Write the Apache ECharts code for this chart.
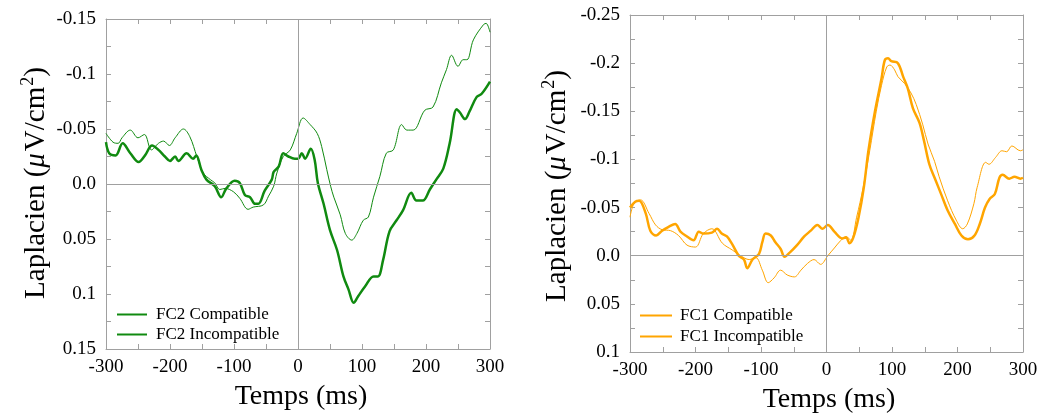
<!DOCTYPE html>
<html><head><meta charset="utf-8">
<script src="https://cdn.jsdelivr.net/npm/echarts@6/dist/echarts.min.js"></script>
<style>html,body{margin:0;padding:0;background:#fff}#c{width:1042px;height:416px}</style>
</head><body><div id="c"></div>
<script>
const xTicks = [-300,-200,-100,0,100,200,300];
const fc2CompT = [-300,-289,-281,-275,-262,-250,-240,-229,-218,-210,-201,-192,-179,-169,-158,-148,-137,-130,-122,-114,-101,-91,-78,-70,-54,-46,-38,-33,-23,-12,-2,8,19,30,37,45,51,56,66,74,84,92,102,110,118,128,138,149,162,170,180,198,211,224,232,240,250,258,264,274,290,294,300];
const fc2CompV = [-0.046,-0.038,-0.037,-0.042,-0.049,-0.042,-0.045,-0.031,-0.037,-0.039,-0.035,-0.042,-0.050,-0.043,-0.025,-0.010,-0.004,-0.001,0.005,0.004,0.007,0.013,0.023,0.021,0.019,0.011,0.002,-0.010,-0.025,-0.031,-0.046,-0.060,-0.054,-0.046,-0.034,-0.013,0.002,0.012,0.028,0.045,0.051,0.045,0.033,0.030,0.012,-0.007,-0.028,-0.031,-0.054,-0.049,-0.049,-0.067,-0.070,-0.092,-0.104,-0.117,-0.107,-0.113,-0.113,-0.131,-0.145,-0.146,-0.138];
const fc2IncT = [-300,-295,-285,-274,-262,-249,-239,-228,-218,-208,-200,-192,-187,-174,-164,-159,-151,-143,-130,-120,-112,-99,-91,-83,-75,-67,-62,-52,-41,-38,-30,-23,-15,-5,0,6,11,20,26,31,40,50,61,71,79,87,94,105,118,125,133,143,154,164,177,185,195,206,216,227,237,248,253,261,268,279,287,300];
const fc2IncV = [-0.038,-0.028,-0.026,-0.037,-0.028,-0.020,-0.026,-0.035,-0.031,-0.025,-0.021,-0.025,-0.021,-0.028,-0.023,-0.026,-0.013,-0.004,0.002,0.012,0.004,-0.003,-0.001,0.010,0.012,0.018,0.018,0.006,-0.004,-0.011,-0.016,-0.028,-0.025,-0.023,-0.023,-0.028,-0.023,-0.032,-0.022,-0.001,0.018,0.042,0.060,0.084,0.096,0.108,0.102,0.093,0.084,0.084,0.069,0.043,0.033,0.024,0.008,0.015,0.015,0.005,-0.004,-0.014,-0.037,-0.068,-0.065,-0.059,-0.066,-0.079,-0.082,-0.093];
const fc1CompT = [-300,-294,-284,-271,-261,-251,-238,-226,-213,-200,-188,-175,-159,-144,-131,-118,-108,-98,-89,-80,-70,-60,-49,-39,-29,-19,-9,2,12,22,30,37,46,56,66,76,84,92,97,104,109,119,129,137,147,155,165,172,185,198,208,215,225,230,243,248,258,268,275,283,296,300];
const fc1CompV = [-0.040,-0.054,-0.058,-0.044,-0.032,-0.027,-0.026,-0.021,-0.011,-0.009,-0.023,-0.028,-0.013,-0.006,0.000,0.004,0.002,0.015,0.028,0.023,0.015,0.020,0.022,0.015,0.008,0.004,0.009,0.000,-0.008,-0.016,-0.020,-0.016,-0.040,-0.071,-0.109,-0.150,-0.177,-0.196,-0.198,-0.193,-0.186,-0.179,-0.169,-0.157,-0.136,-0.116,-0.098,-0.082,-0.057,-0.037,-0.028,-0.033,-0.054,-0.071,-0.097,-0.095,-0.102,-0.109,-0.108,-0.114,-0.109,-0.110];
const fc1IncT = [-300,-292,-286,-276,-269,-260,-251,-241,-231,-223,-213,-203,-195,-188,-175,-167,-160,-152,-144,-134,-126,-121,-113,-103,-98,-93,-85,-78,-70,-64,-55,-45,-34,-24,-14,-6,2,12,24,30,35,41,49,57,64,74,84,89,94,99,109,117,124,132,142,149,157,165,175,185,196,206,216,226,234,242,249,257,264,269,279,287,296,300];
const fc1IncV = [-0.050,-0.056,-0.057,-0.044,-0.026,-0.021,-0.026,-0.030,-0.033,-0.025,-0.020,-0.016,-0.025,-0.023,-0.024,-0.028,-0.023,-0.020,-0.012,0.000,0.004,0.013,0.004,-0.002,-0.014,-0.023,-0.021,-0.014,-0.007,0.001,-0.004,-0.011,-0.020,-0.026,-0.032,-0.028,-0.032,-0.025,-0.018,-0.019,-0.013,-0.019,-0.040,-0.071,-0.109,-0.150,-0.184,-0.203,-0.205,-0.202,-0.200,-0.186,-0.174,-0.153,-0.138,-0.119,-0.095,-0.081,-0.064,-0.047,-0.033,-0.021,-0.017,-0.021,-0.033,-0.050,-0.059,-0.064,-0.081,-0.084,-0.080,-0.082,-0.080,-0.081];
const leftYTicks = ['-0.15','-0.1','-0.05','0.0','0.05','0.1','0.15'];
const rightYTicks = ['-0.25','-0.2','-0.15','-0.1','-0.05','0.0','0.05','0.1'];

const zip = (t, v) => t.map((x, i) => [x, v[i]]);
const FONT = 'Liberation Serif';
const AX = '#a0a0a0';
const GREEN = '#108a10';
const ORANGE = '#ffa500';

function yFmt(list) {
  return function (v) {
    const r = Math.round(v * 100) / 100;
    const s = r === 0 ? '0.0' : String(r);
    return list.indexOf(s) >= 0 ? s : '';
  };
}

const grids = [
  {left: 106, top: 19, width: 384, height: 330},
  {left: 630, top: 15, width: 393, height: 337}
];

function xAxes(gi) {
  const common = {type: 'value', gridIndex: gi, min: -300, max: 300, interval: 100,
    axisLine: {show: true, onZero: false, lineStyle: {color: AX, width: 1}},
    axisTick: {show: true, inside: true, length: 5, lineStyle: {color: AX}},
    minorTick: {show: true, splitNumber: 2, length: 5, lineStyle: {color: AX}},
    splitLine: {show: false}};
  return [
    Object.assign({}, common, {position: 'bottom',
      axisLabel: {show: true, color: '#000', fontFamily: FONT, fontSize: 19, margin: 9}}),
    Object.assign({}, common, {position: 'top', axisLabel: {show: false}})
  ];
}
function yAxes(gi, min, max, list) {
  const common = {type: 'value', gridIndex: gi, min: min, max: max, interval: 0.05, inverse: true,
    axisLine: {show: true, onZero: false, lineStyle: {color: AX, width: 1}},
    axisTick: {show: true, inside: true, length: 5, lineStyle: {color: AX}},
    minorTick: {show: true, splitNumber: 2, length: 5, lineStyle: {color: AX}},
    splitLine: {show: false}};
  return [
    Object.assign({}, common, {position: 'left',
      axisLabel: {show: true, color: '#000', fontFamily: FONT, fontSize: 19, margin: 10, formatter: yFmt(list)}}),
    Object.assign({}, common, {position: 'right', axisLabel: {show: false}})
  ];
}

const zeroLines = {
  silent: true, symbol: 'none', label: {show: false},
  lineStyle: {color: AX, type: 'solid', width: 1},
  emphasis: {disabled: true},
  data: [{xAxis: 0}, {yAxis: 0}],
  animation: false
};

function ser(name, data, xi, yi, color, width, ml) {
  const s = {name: name, type: 'line', data: data, xAxisIndex: xi, yAxisIndex: yi,
    showSymbol: false, symbol: 'none', smooth: 0.35,
    lineStyle: {color: color, width: width}, itemStyle: {color: color}, z: width > 1.5 ? 3 : 2};
  if (ml) s.markLine = zeroLines;
  return s;
}

const titleRich = {
  n: {fontFamily: FONT, fontSize: 29, color: '#000', lineHeight: 31, verticalAlign: 'bottom'},
  i: {fontFamily: FONT, fontSize: 29, fontStyle: 'italic', color: '#000', lineHeight: 31, verticalAlign: 'bottom', padding: [0, 2, 0, 0]},
  s: {fontFamily: FONT, fontSize: 18, color: '#000', lineHeight: 31, verticalAlign: 'top', padding: [0, 0, 0, 1]}
};
const yTitleText = '{n|Laplacien (}{i|\u03bc}{n|V/cm}{s|2}{n|)}';

const legendText = {fontFamily: FONT, fontSize: 17, color: '#000', padding: [0, 0, 0, 4]};

const option = {
  animation: false,
  backgroundColor: '#fff',
  grid: grids,
  xAxis: [...xAxes(0), ...xAxes(1)],
  yAxis: [...yAxes(0, -0.15, 0.15, leftYTicks), ...yAxes(1, -0.25, 0.1, rightYTicks)],
  legend: [
    {data: ['FC2 Compatible', 'FC2 Incompatible'], orient: 'vertical', left: 116, top: 306, padding: 0,
      itemWidth: 30, itemHeight: 12, itemGap: 3, textStyle: legendText, selectedMode: false,
      itemStyle: {opacity: 0}},
    {data: ['FC1 Compatible', 'FC1 Incompatible'], orient: 'vertical', left: 639, top: 307, padding: 0,
      itemWidth: 32, itemHeight: 12, itemGap: 4, textStyle: Object.assign({}, legendText, {padding: [0, 0, 0, 3]}), selectedMode: false,
      itemStyle: {opacity: 0}}
  ],
  series: [
    ser('FC2 Compatible', zip(fc2CompT, fc2CompV), 0, 0, GREEN, 1, true),
    ser('FC2 Incompatible', zip(fc2IncT, fc2IncV), 0, 0, GREEN, 2.5, false),
    ser('FC1 Compatible', zip(fc1CompT, fc1CompV), 2, 2, ORANGE, 1, true),
    ser('FC1 Incompatible', zip(fc1IncT, fc1IncV), 2, 2, ORANGE, 2.5, false)
  ],
  graphic: [
    {type: 'text', x: 35, y: 183, rotation: Math.PI / 2,
      style: {text: yTitleText, rich: titleRich, align: 'center', verticalAlign: 'middle'}},
    {type: 'text', x: 556, y: 186, rotation: Math.PI / 2,
      style: {text: yTitleText, rich: titleRich, align: 'center', verticalAlign: 'middle'}},
    {type: 'text', x: 301, y: 397,
      style: {text: 'Temps (ms)', fontFamily: FONT, fontSize: 28, fill: '#000', align: 'center', verticalAlign: 'middle'}},
    {type: 'text', x: 829, y: 400,
      style: {text: 'Temps (ms)', fontFamily: FONT, fontSize: 28, fill: '#000', align: 'center', verticalAlign: 'middle'}}
  ]
};

const chart = echarts.init(document.getElementById('c'), null, {renderer: 'canvas'});
chart.setOption(option);
</script>
</body></html>
